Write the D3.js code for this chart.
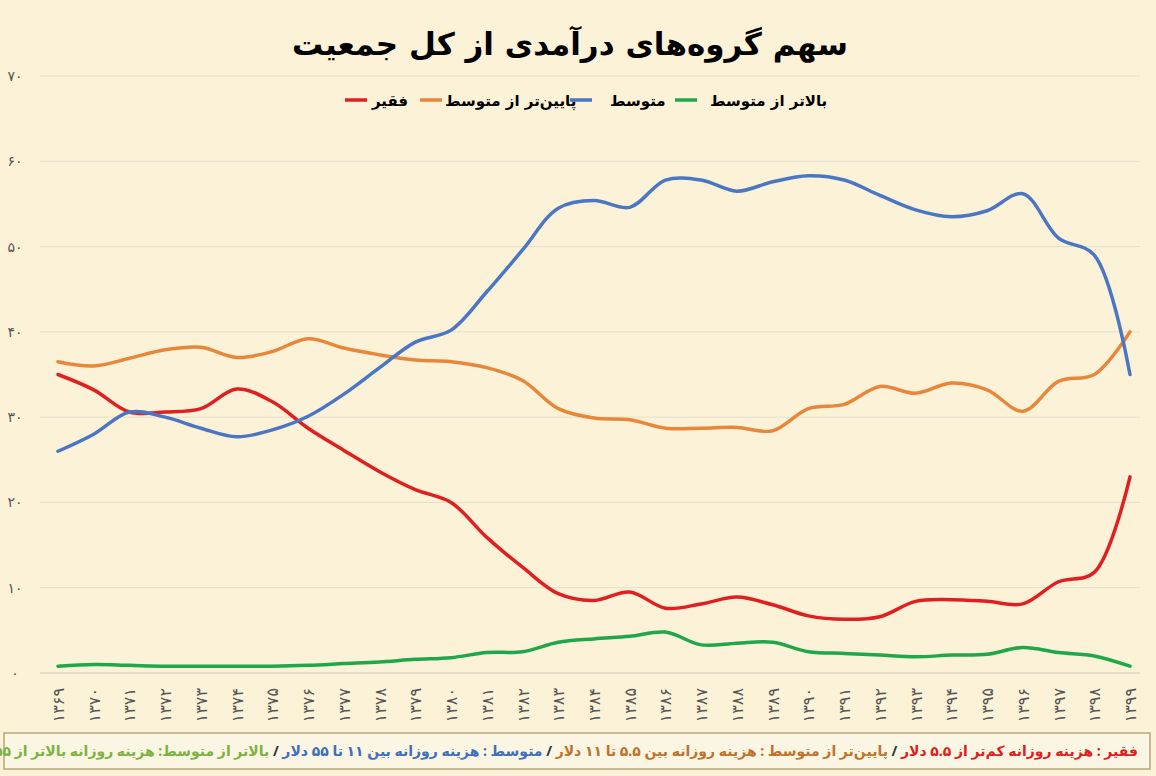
<!DOCTYPE html>
<html><head><meta charset="utf-8">
<script src="https://cdn.jsdelivr.net/npm/d3@7"></script>
<style>
body{margin:0;background:#f7ecd0;}
svg{display:block;font-family:"DejaVu Sans",sans-serif;}
</style></head>
<body><svg id="chart" width="1156" height="776"></svg>
<script>
const years = d3.range(1369, 1400);
const poor = [35,33.2,30.6,30.6,31,33.3,31.8,28.7,26.1,23.6,21.5,20,15.9,12.4,9.3,8.5,9.5,7.6,8.1,8.9,8,6.7,6.3,6.6,8.4,8.6,8.4,8.1,10.7,11.8,23];
const lowerMid = [36.5,36,36.9,37.9,38.2,37,37.7,39.2,38.1,37.3,36.7,36.5,35.8,34.3,31,29.9,29.7,28.7,28.7,28.8,28.4,31,31.5,33.6,32.8,34,33.2,30.7,34.2,35,40];
const middle = [26,28,30.6,30,28.7,27.7,28.5,30.1,32.7,35.8,38.8,40.2,44.7,49.6,54.5,55.4,54.6,57.8,57.8,56.5,57.6,58.3,57.8,56,54.3,53.5,54.2,56.2,51,49,35];
const upperMid = [0.8,1,0.9,0.8,0.8,0.8,0.8,0.9,1.1,1.3,1.6,1.8,2.4,2.5,3.6,4,4.3,4.8,3.3,3.5,3.6,2.5,2.3,2.1,1.9,2.1,2.2,3,2.4,2,0.8];
const seriesNames = ["فقیر", "پایین‌تر از متوسط", "متوسط", "بالاتر از متوسط"];
const colors = ["#e02020", "#e8873a", "#4a76c4", "#1fa84a"];
const yTicks = [0,10,20,30,40,50,60,70];

const fa = s => String(s).replace(/\d/g, d => "۰۱۲۳۴۵۶۷۸۹"[d]);

const svg = d3.select("#chart");
svg.append("rect").attr("width",1156).attr("height",776).attr("fill","#fbf2d8");

const x = d3.scalePoint().domain(years).range([58, 1130]);
const y = d3.scaleLinear().domain([0, 70]).range([673, 76]);

// grid
svg.append("g").selectAll("line").data(yTicks).enter().append("line")
  .attr("x1", 40).attr("x2", 1140)
  .attr("y1", d => y(d)).attr("y2", d => y(d))
  .attr("stroke", d => d === 0 ? "#cfc8b8" : "#e6dfcf").attr("stroke-width", 1);

svg.append("g").selectAll("text").data(yTicks).enter().append("text")
  .attr("x", 15).attr("y", d => y(d) + 5)
  .attr("text-anchor", "middle").attr("font-size", 14).attr("fill", "#555")
  .text(d => fa(d));

svg.append("g").selectAll("text").data(years).enter().append("text")
  .attr("transform", d => `translate(${x(d) + 6},688) rotate(-90)`)
  .attr("text-anchor", "end").attr("font-size", 16).attr("fill", "#555")
  .text(d => fa(d));

const line = d3.line()
  .x((d, i) => x(years[i]))
  .y(d => y(d))
  .curve(d3.curveCatmullRom.alpha(0.5));

[poor, lowerMid, middle, upperMid].forEach((s, i) => {
  svg.append("path").datum(s)
    .attr("fill", "none").attr("stroke", colors[i])
    .attr("stroke-width", 3.5).attr("stroke-linecap", "round")
    .attr("d", line);
});

// title
svg.append("text").attr("x", 570).attr("y", 55).attr("text-anchor", "middle")
  .attr("font-size", 31).attr("font-weight", "bold").attr("direction", "rtl")
  .text("سهم گروه‌های درآمدی از کل جمعیت");

// legend: line, then text to its right
const legendPos = [[345, 372], [420, 445], [570, 610], [675, 710]];
legendPos.forEach(([lx, tx], i) => {
  svg.append("line").attr("x1", lx).attr("x2", lx + 22).attr("y1", 100).attr("y2", 100)
    .attr("stroke", colors[i]).attr("stroke-width", 3.5);
  svg.append("text").attr("x", tx).attr("y", 106).attr("text-anchor", "start")
    .attr("font-size", 15).attr("font-weight", "bold")
    .text(seriesNames[i]);
});

// footer
svg.append("rect").attr("x", 4).attr("y", 733).attr("width", 1146).attr("height", 36)
  .attr("fill", "#fbf6e4").attr("stroke", "#b8a77a").attr("stroke-width", 1.5);
const foot = svg.append("text").attr("x", 1138).attr("y", 756).attr("direction", "rtl")
  .attr("text-anchor", "start").attr("font-size", 14).attr("font-weight", "bold")
  .attr("font-family", "'Noto Sans', 'DejaVu Sans', sans-serif");
const parts = [
  ["فقیر : هزینه روزانه کم‌تر از ۵.۵ دلار", colors[0]],
  ["  /  ", "#333"],
  ["پایین‌تر از متوسط : هزینه روزانه بین ۵.۵ تا ۱۱ دلار", "#c0722c"],
  ["  /  ", "#333"],
  ["متوسط : هزینه روزانه بین ۱۱ تا ۵۵ دلار", "#3f6fbd"],
  [" / ", "#333"],
  ["بالاتر از متوسط: هزینه روزانه بالاتر از ۵۵ دلار", "#7cb342"]
];
parts.forEach(([t, c]) => foot.append("tspan").attr("fill", c).text(t));
</script></body></html>
